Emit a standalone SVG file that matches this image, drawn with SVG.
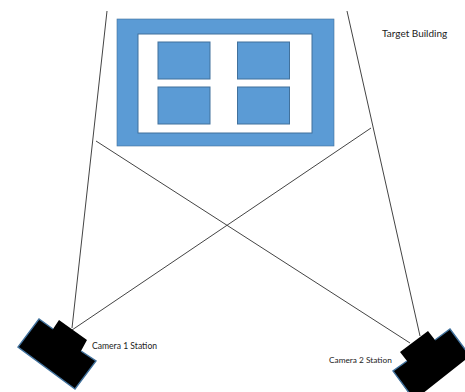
<svg xmlns="http://www.w3.org/2000/svg" width="465" height="392" viewBox="0 0 465 392">
<style>
.fill{fill:#5b9bd5}
.win{fill:#5b9bd5;stroke:#41719c;stroke-width:1}
.ln{stroke:#444;stroke-width:1;fill:none}
.cam{fill:#000;stroke:none}
.edge{fill:none;stroke:#41719c;stroke-width:1.4}
.lbl{font-family:"Lato","Liberation Sans",sans-serif;fill:#222}
</style>
<rect width="465" height="392" fill="#fff"/>
<g id="connectors">
<line class="ln" x1="107" y1="11" x2="72" y2="328"/>
<line class="ln" x1="347" y1="11" x2="420" y2="336"/>
<line class="ln" x1="96" y1="141" x2="410" y2="343"/>
<line class="ln" x1="72" y1="330" x2="371" y2="128"/>
</g>
<g id="building">
<rect class="fill" x="117" y="19" width="217" height="127" stroke="#41719c" stroke-width="0.6"/>
<rect x="138" y="34" width="174" height="99" fill="#fff" stroke="#41719c" stroke-width="1"/>
<rect class="win" x="158" y="42" width="52" height="37"/>
<rect class="win" x="237.500" y="42" width="52" height="37"/>
<rect class="win" x="158" y="87" width="52" height="37"/>
<rect class="win" x="237.500" y="87" width="52" height="37"/>
</g>
<g id="camera1">
<polygon class="cam" points="39,319 53,329 59,320 87,340 81,351 96,361 75,389 18,347"/>
<polyline class="edge" points="53,329 39,319 18,347 75,389 96,361 81,351"/>
<text class="lbl" x="92" y="349" font-size="8.600">Camera 1 Station</text>
</g>
<g id="camera2">
<polygon class="cam" points="428,331 435,340 450,329 470,356 422,394 408,392 393,371 407,361 400,352"/>
<polyline class="edge" points="435,340 450,329 470,356"/>
<polyline class="edge" points="407,361 393,371 410,394"/>
<text class="lbl" x="329" y="363" font-size="8.300">Camera 2 Station</text>
</g>
<g id="label">
<text class="lbl" x="382" y="37" font-size="10">Target Building</text>
</g>
</svg>
